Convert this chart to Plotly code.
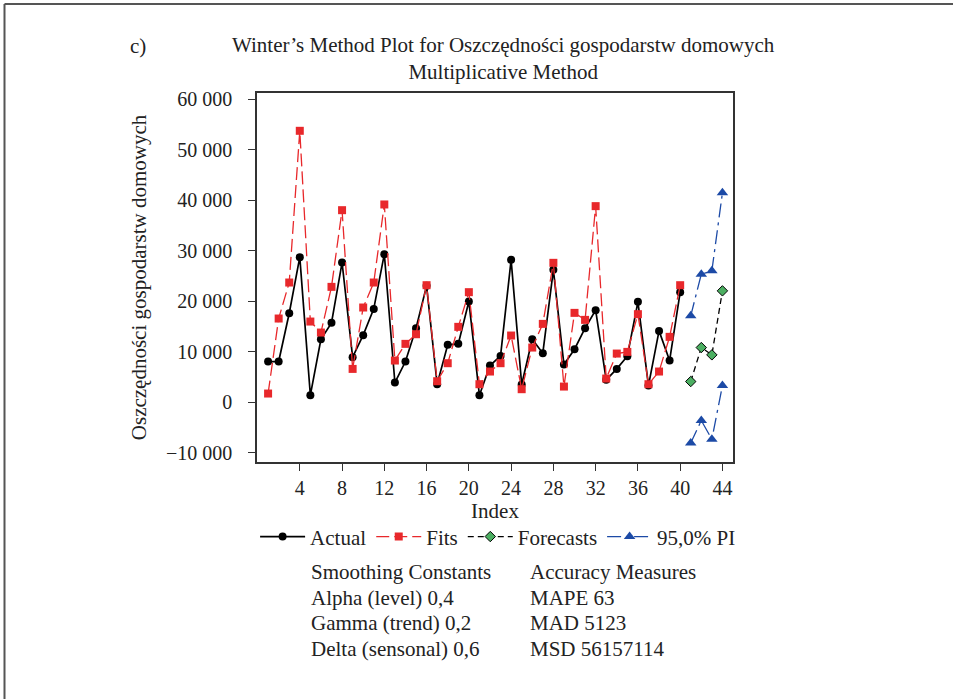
import plotly.graph_objects as go

index = list(range(1, 41))
actual = [8060, 8060, 17630, 28730, 1390, 12480, 15720, 27670, 8920, 13280,
          18490, 29330, 3900, 8060, 14660, 23050, 3570, 11360, 11560, 19950,
          1390, 7270, 9180, 28200, 3500, 12480, 9710, 26220, 7460, 10500,
          14660, 18230, 4430, 6600, 9110, 19880, 3300, 14130, 8260, 21800]
fits = [1720, 16580, 23710, 53760, 15980, 13800, 22850, 38040, 6600, 18760,
        23710, 39170, 8260, 11560, 13470, 23180, 4160, 7730, 14930, 21800,
        3570, 6080, 7730, 13210, 2580, 10830, 15520, 27610, 3100, 17700,
        16310, 38840, 4690, 9640, 9970, 17440, 3570, 6080, 12950, 23180]
fc_index = [41, 42, 43, 44]
forecasts = [4100, 10830, 9380, 22060]
pi_upper = [17110, 25360, 26020, 41480]
pi_lower = [-8060, -3630, -7330, 3300]

y_ticks = [-10000, 0, 10000, 20000, 30000, 40000, 50000, 60000]
y_ticktext = ["\u221210 000", "0", "10 000", "20 000", "30 000", "40 000", "50 000", "60 000"]
x_ticks = [4, 8, 12, 16, 20, 24, 28, 32, 36, 40, 44]

FONT = "Liberation Serif"
RED = "#e8282b"
BLUE = "#1c4aa6"
GREEN = "#4caf62"
TXT = "#222222"

fig = go.Figure()
fig.add_trace(go.Scatter(x=index, y=actual, name="Actual", mode="lines+markers",
                         line=dict(color="black", width=1.7),
                         marker=dict(symbol="circle", size=8, color="black")))
fig.add_trace(go.Scatter(x=index, y=fits, name="Fits", mode="lines+markers",
                         line=dict(color=RED, width=1.3, dash="13px,5px"),
                         marker=dict(symbol="square", size=8, color=RED)))
fig.add_trace(go.Scatter(x=fc_index, y=forecasts, name="Forecasts", mode="lines+markers",
                         line=dict(color="black", width=1.3, dash="6px,4px"),
                         marker=dict(symbol="diamond", size=8, color=GREEN,
                                     line=dict(color="black", width=1))))
fig.add_trace(go.Scatter(x=fc_index, y=pi_upper, name="95,0% PI", mode="lines+markers",
                         line=dict(color=BLUE, width=1.3, dash="14px,5px,3px,5px"),
                         marker=dict(symbol="triangle-up", size=10, color=BLUE)))
fig.add_trace(go.Scatter(x=fc_index, y=pi_lower, name="95,0% PI", mode="lines+markers",
                         showlegend=False,
                         line=dict(color=BLUE, width=1.3, dash="14px,5px,3px,5px"),
                         marker=dict(symbol="triangle-up", size=10, color=BLUE)))

axis_common = dict(showline=True, linecolor="#333333", linewidth=1.5, mirror=True,
                   ticks="outside", ticklen=7, tickcolor="#333333", showgrid=False,
                   zeroline=False, tickfont=dict(family=FONT, size=20, color=TXT))

fig.update_layout(
    width=953, height=699,
    margin=dict(l=257, r=220, t=93, b=237, autoexpand=False),
    paper_bgcolor="white", plot_bgcolor="white",
    font=dict(family=FONT, size=21, color=TXT),
    xaxis=dict(range=[-0.05, 45], tickvals=x_ticks,
               title=dict(text="Index", font=dict(family=FONT, size=21), standoff=4),
               **axis_common),
    yaxis=dict(range=[-11840, 61250], tickvals=y_ticks, ticktext=y_ticktext,
               ticklabelstandoff=12,
               title=dict(text="Oszczędności gospodarstw domowych",
                          font=dict(family=FONT, size=21), standoff=14),
               **axis_common),
    legend=dict(orientation="h", x=-0.004, xanchor="left", y=-0.203, yanchor="middle",
                font=dict(family=FONT, size=21, color=TXT), itemwidth=45,
                bgcolor="rgba(0,0,0,0)", traceorder="normal"),
    showlegend=True,
)

# Title
fig.add_annotation(text="Winter\u2019s Method Plot for Oszczędności gospodarstw domowych<br>Multiplicative Method",
                   xref="paper", yref="paper", x=(503 - 257) / 476, y=1 + (93 - 58) / 369,
                   xanchor="center", yanchor="middle", showarrow=False,
                   font=dict(family=FONT, size=21), align="center")
fig.add_annotation(text="c)", xref="paper", yref="paper",
                   x=(138 - 257) / 476, y=1 + (93 - 46) / 369,
                   xanchor="center", yanchor="middle", showarrow=False,
                   font=dict(family=FONT, size=21))

left_lines = ["Smoothing Constants", "Alpha (level) 0,4", "Gamma (trend) 0,2", "Delta (sensonal) 0,6"]
right_lines = ["Accuracy Measures", "MAPE 63", "MAD 5123", "MSD 56157114"]
for i, (a, b) in enumerate(zip(left_lines, right_lines)):
    ypix = 572 + i * 25.5
    yp = (462 - ypix) / 369
    fig.add_annotation(text=a, xref="paper", yref="paper", x=(309 - 257) / 476, y=yp,
                       xanchor="left", yanchor="middle", showarrow=False,
                       font=dict(family=FONT, size=21))
    fig.add_annotation(text=b, xref="paper", yref="paper", x=(528 - 257) / 476, y=yp,
                       xanchor="left", yanchor="middle", showarrow=False,
                       font=dict(family=FONT, size=21))

# Page frame (left and top edges)
fig.add_shape(type="line", xref="paper", yref="paper",
              x0=(4.5 - 257) / 476, x1=(4.5 - 257) / 476,
              y0=(462 - 699) / 369, y1=(462 - 4) / 369,
              line=dict(color="#555555", width=2))
fig.add_shape(type="line", xref="paper", yref="paper",
              x0=(4.5 - 257) / 476, x1=(953 - 257) / 476,
              y0=(462 - 4) / 369, y1=(462 - 4) / 369,
              line=dict(color="#555555", width=2))

fig.write_html("out.html")
